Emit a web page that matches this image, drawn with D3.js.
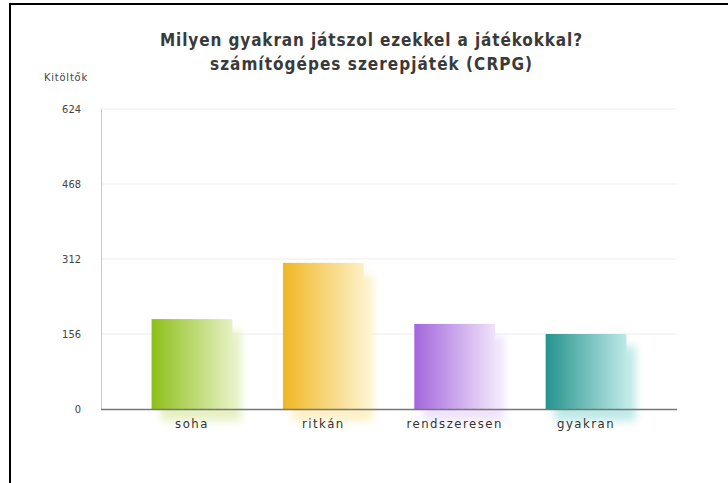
<!DOCTYPE html>
<html><head><meta charset="utf-8">
<script src="https://cdn.jsdelivr.net/npm/d3@7"></script>
<style>body{margin:0;background:#fff}svg{display:block}</style>
</head><body>
<svg id="c" width="728" height="483"></svg>
<script>
const categories = ["soha", "ritkán", "rendszeresen", "gyakran"];
const values = [187, 304, 177, 156];
const yTicks = [0, 156, 312, 468, 624];
const titleLines = ["Milyen gyakran játszol ezekkel a játékokkal?", "számítógépes szerepjáték (CRPG)"];
const yLabel = "Kitöltők";
const darkColors = ["#8cbf18", "#f0b722", "#a366dc", "#25938d"];
const lightColors = ["#e6f1c2", "#fdf0c6", "#efe3fa", "#bde9e7"];

const svg = d3.select("#c");
svg.append("rect").attr("x", 10).attr("y", 4).attr("width", 730).attr("height", 500)
  .attr("fill", "#fff").attr("stroke", "#000").attr("stroke-width", 2);

const x = d3.scaleBand().domain(categories).range([101, 677]).paddingInner(0.385).paddingOuter(0.385);
const y = d3.scaleLinear().domain([0, 624]).range([409, 109]);

const defs = svg.append("defs");
categories.forEach((c, i) => {
  const g = defs.append("linearGradient").attr("id", "g" + i).attr("x1", 0).attr("x2", 1).attr("y1", 0).attr("y2", 0);
  g.append("stop").attr("offset", "0%").attr("stop-color", darkColors[i]);
  g.append("stop").attr("offset", "100%").attr("stop-color", lightColors[i]);
});
defs.append("filter").attr("id", "blur").attr("x", "-30%").attr("y", "-30%").attr("width", "160%").attr("height", "160%")
  .append("feGaussianBlur").attr("stdDeviation", 4);

// gridlines
svg.append("g").selectAll("line").data(yTicks.filter(d => d > 0)).join("line")
  .attr("x1", 101).attr("x2", 677).attr("y1", d => y(d)).attr("y2", d => y(d))
  .attr("stroke", "#ececec").attr("stroke-width", 1);

// shadows
svg.append("g").selectAll("rect").data(values).join("rect")
  .attr("x", (d, i) => x(categories[i]) + 9).attr("y", d => y(d) + 12)
  .attr("width", x.bandwidth()).attr("height", d => 409 - y(d))
  .attr("fill", (d, i) => lightColors[i]).attr("opacity", 1).attr("filter", "url(#blur)");

// bars
svg.append("g").selectAll("rect").data(values).join("rect")
  .attr("x", (d, i) => x(categories[i])).attr("y", d => y(d))
  .attr("width", x.bandwidth()).attr("height", d => 409 - y(d))
  .attr("fill", (d, i) => "url(#g" + i + ")");

// y axis line
svg.append("line").attr("x1", 101.5).attr("x2", 101.5).attr("y1", 109).attr("y2", 409).attr("stroke", "#c8c8c8");
// x axis line
svg.append("line").attr("x1", 101).attr("x2", 677).attr("y1", 409.5).attr("y2", 409.5).attr("stroke", "#777").attr("stroke-width", 1.5);

const font = "'DejaVu Sans Condensed', 'DejaVu Sans', sans-serif";
// y tick labels
const yAxis = d3.axisLeft(y).tickValues(yTicks).tickSize(0).tickPadding(20);
const ya = svg.append("g").attr("transform", "translate(101,0)").call(yAxis);
ya.select(".domain").remove();
ya.selectAll("text").attr("font-family", font).attr("font-size", 11).attr("fill", "#444");

// x labels
const xAxis = d3.axisBottom(x).tickSize(0).tickPadding(10);
const xa = svg.append("g").attr("transform", "translate(0,409)").call(xAxis);
xa.select(".domain").remove();
xa.selectAll("text").attr("font-family", font).attr("font-size", 13).attr("letter-spacing", "1.5px").attr("fill", "#333");

svg.append("text").attr("x", 66).attr("y", 81).attr("text-anchor", "middle")
  .attr("font-family", font).attr("font-size", 11).attr("letter-spacing", "0.8px").attr("fill", "#444").text(yLabel);

const titleWidths = [422, 322];
svg.append("g").selectAll("text").data(titleLines).join("text")
  .attr("x", 371).attr("y", (d, i) => 46 + i * 24).attr("text-anchor", "middle")
  .attr("font-family", font).attr("font-size", 17).attr("font-weight", "bold").attr("fill", "#3a3a3a")
  .attr("textLength", (d, i) => titleWidths[i]).attr("lengthAdjust", "spacing")
  .text(d => d);
</script>
</body></html>
